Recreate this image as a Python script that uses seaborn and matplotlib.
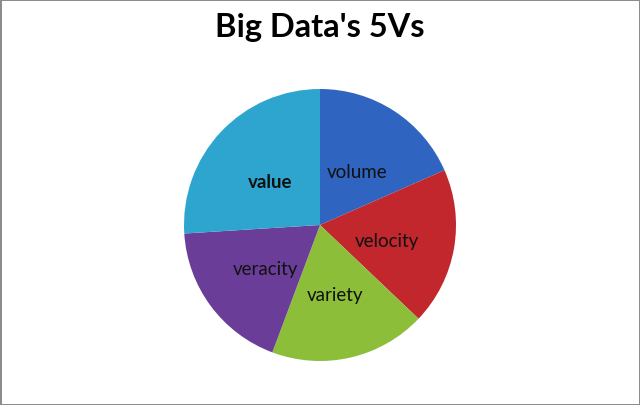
import matplotlib
matplotlib.use("Agg")
import matplotlib.pyplot as plt
import seaborn as sns

labels = ["volume", "velocity", "variety", "veracity", "value"]
shares = [18.4, 18.7, 18.6, 18.3, 26.0]
colors = ["#2F65C0", "#C1272D", "#8CBE39", "#6A3E98", "#2EA5CF"]

sns.set_theme(style="white")
plt.rcParams["font.family"] = ["Lato", "DejaVu Sans"]

fig = plt.figure(figsize=(6.4, 4.06), dpi=100)
fig.patch.set_edgecolor("#8c8c8c")
fig.patch.set_linewidth(2)

# pie axes: centre ~ (320, 226) px, radius ~136 px
ax = fig.add_axes([184 / 640, 44 / 406, 272 / 640, 272 / 406])
wedges, texts = ax.pie(shares, labels=labels, colors=colors, startangle=90,
                       counterclock=False, labeldistance=0.5,
                       textprops={"fontsize": 13.5, "color": "#111111"},
                       wedgeprops={"linewidth": 0})
for t in texts:
    t.set_horizontalalignment("center")
    x, y = t.get_position()
    t.set_position((x, y - 0.025))
texts[-1].set_fontweight("bold")
ax.set_xlim(-1, 1)
ax.set_ylim(-1, 1)
ax.set_aspect("equal")

fig.text(0.5, 1 - 27 / 406, "Big Data's 5Vs", ha="center", va="center",
         fontsize=23.5, fontweight="bold", color="black")

fig.savefig("out.png", dpi=100, edgecolor=fig.get_edgecolor())
